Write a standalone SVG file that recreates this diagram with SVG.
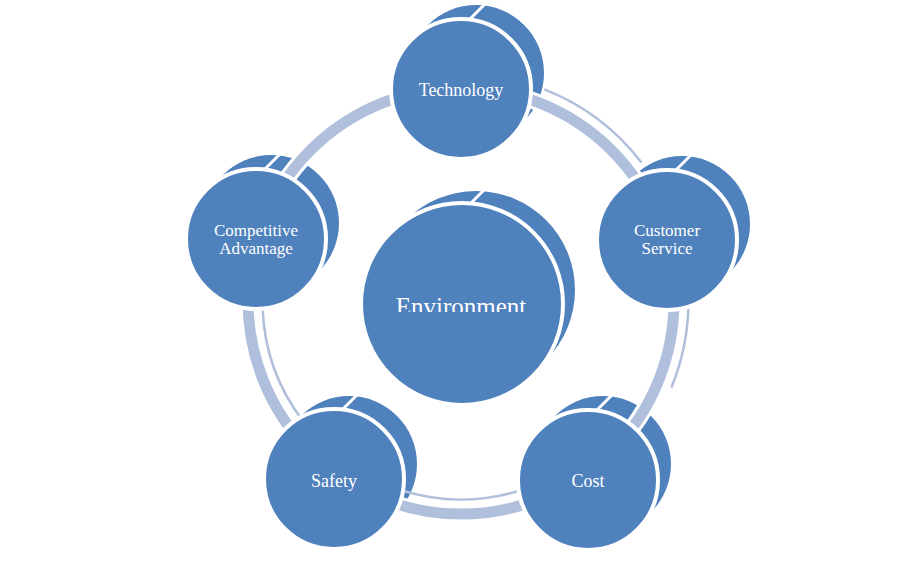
<svg xmlns="http://www.w3.org/2000/svg" width="921" height="571" viewBox="0 0 921 571">
<defs>
<style>
.back{fill:#4f81bd}
.cut{stroke:#fff;stroke-width:3;fill:none}
.main{fill:#4f81bd;stroke:#fff;stroke-width:4}
.lbl{font-family:"Liberation Serif","Times New Roman",serif;font-size:18px;fill:#fff;text-anchor:middle}
.sm{font-size:17px}
.thin{fill:none;stroke:#b0bfdb;stroke-width:2.5}
</style>
<clipPath id="envclip"><rect x="350" y="280" width="220" height="32"/></clipPath>
</defs>
<rect width="921" height="571" fill="#fff"/>
<g id="backs">
<circle class="back" cx="476" cy="290" r="99"/>
<circle class="back" cx="476" cy="73" r="68"/>
<circle class="back" cx="682" cy="224" r="68"/>
<circle class="back" cx="603" cy="464" r="68"/>
<circle class="back" cx="349" cy="464" r="68"/>
<circle class="back" cx="271" cy="223" r="68"/>
<line class="cut" x1="468" y1="206" x2="490" y2="184"/>
<line class="cut" x1="467" y1="22" x2="489" y2="0"/>
<line class="cut" x1="673" y1="173" x2="695" y2="151"/>
<line class="cut" x1="594" y1="413" x2="616" y2="391"/>
<line class="cut" x1="340" y1="412" x2="362" y2="390"/>
<line class="cut" x1="262" y1="172" x2="284" y2="150"/>
</g>
<g id="connectors">
<path class="thin" d="M544.4 89.3 A227.5 227.5 0 0 1 641.5 162.5"/>
<path class="thin" d="M688.5 301 A227.5 227.5 0 0 1 671.3 387.7"/>
<path class="thin" d="M522.3 489.8 A198.5 198.5 0 0 1 399.7 489.8"/>
<path class="thin" d="M302.5 420.5 A198.5 198.5 0 0 1 262.6 307.9"/>
<circle cx="461" cy="301" r="213" fill="none" stroke="#fff" stroke-width="17"/>
<circle cx="461" cy="301" r="213" fill="none" stroke="#b0bfdb" stroke-width="11"/>
</g>
<g id="node-environment">
<circle class="main" cx="462" cy="304" r="101"/>
<text class="lbl" x="461" y="314.5" style="font-size:25px" clip-path="url(#envclip)">Environment</text>
</g>
<g id="node-technology">
<circle class="main" cx="461" cy="89" r="70"/>
<text class="lbl" x="461" y="96">Technology</text>
</g>
<g id="node-customer-service">
<circle class="main" cx="667" cy="240" r="70"/>
<text class="lbl sm" x="667" y="236">Customer</text>
<text class="lbl sm" x="667" y="254">Service</text>
</g>
<g id="node-cost">
<circle class="main" cx="588" cy="480" r="70"/>
<text class="lbl" x="588" y="487">Cost</text>
</g>
<g id="node-safety">
<circle class="main" cx="334" cy="479" r="70"/>
<text class="lbl" x="334" y="487">Safety</text>
</g>
<g id="node-competitive-advantage">
<circle class="main" cx="256" cy="239" r="70"/>
<text class="lbl sm" x="256" y="236">Competitive</text>
<text class="lbl sm" x="256" y="254">Advantage</text>
</g>
</svg>
